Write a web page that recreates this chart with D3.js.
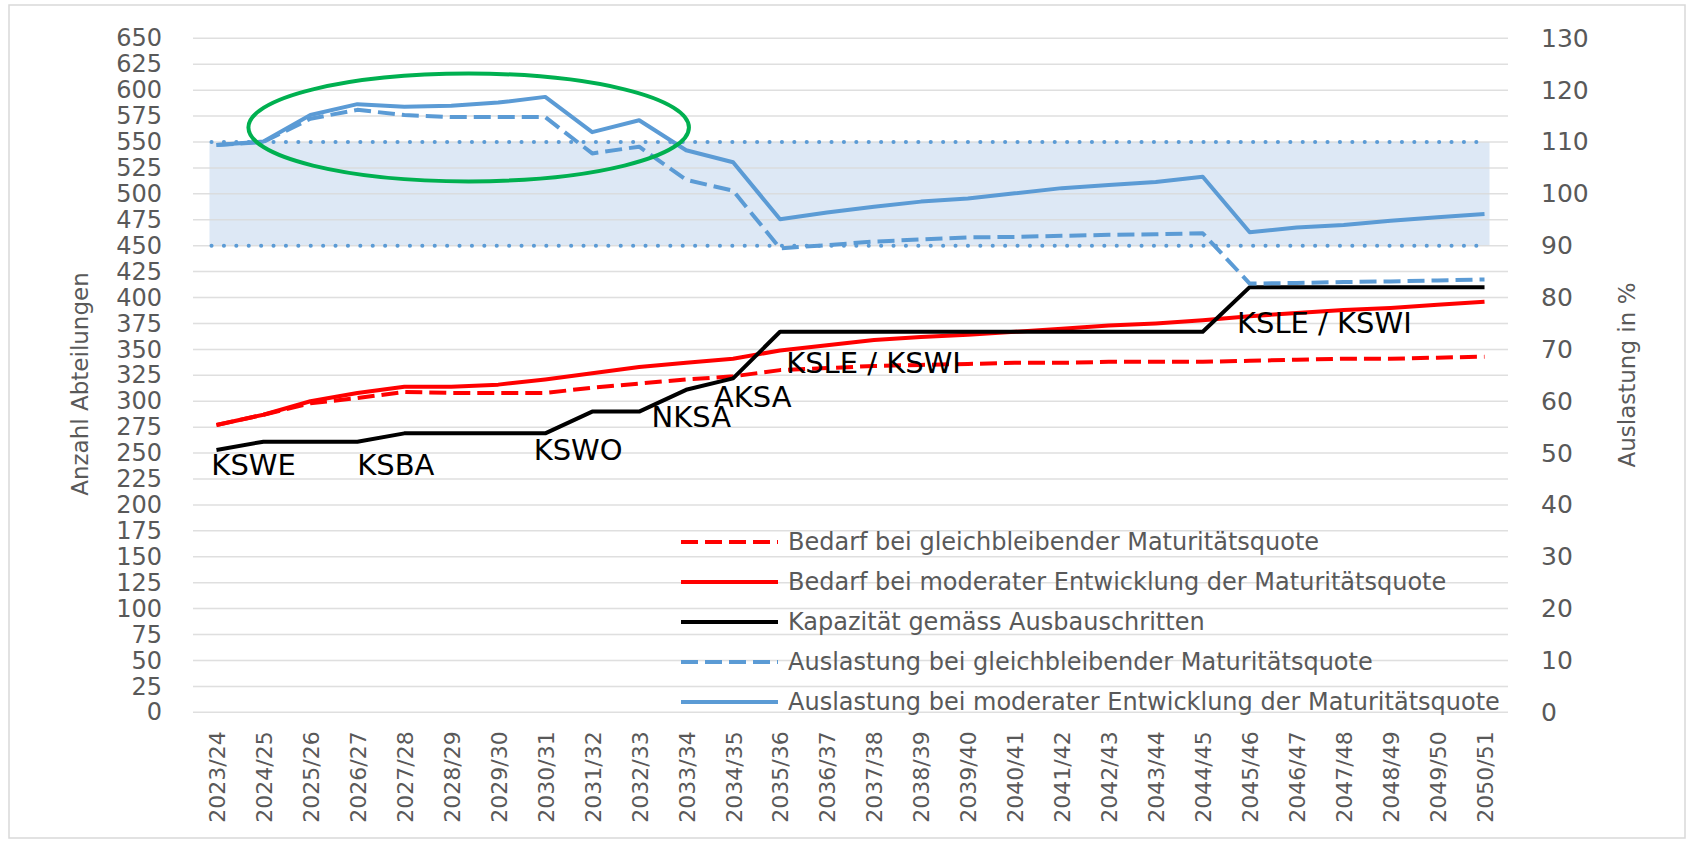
<!DOCTYPE html>
<html>
<head>
<meta charset="utf-8">
<script src="https://cdn.jsdelivr.net/npm/d3@7"></script>
<style>
    html, body { margin: 0; padding: 0; background: #fff; }
    svg { display: block; font-family: "DejaVu Sans", sans-serif; }
</style>
</head>
<body>
<main id="root"></main>
<script>
"use strict";

var years = [
    '2023/24', '2024/25', '2025/26', '2026/27', '2027/28', '2028/29', '2029/30',
    '2030/31', '2031/32', '2032/33', '2033/34', '2034/35', '2035/36', '2036/37',
    '2037/38', '2038/39', '2039/40', '2040/41', '2041/42', '2042/43', '2043/44',
    '2044/45', '2045/46', '2046/47', '2047/48', '2048/49', '2049/50', '2050/51'
];

// Anzahl Abteilungen (linke Achse)
var bedarfGleich = [277, 287, 298, 303, 309, 308, 308, 308, 313, 317, 321, 324, 330, 332,
                    334, 335, 336, 337, 337, 338, 338, 338, 339, 340, 341, 341, 342, 343];
var bedarfModerat = [277, 287, 300, 308, 314, 314, 316, 321, 327, 333, 337, 341, 349, 354,
                     359, 362, 364, 367, 370, 373, 375, 378, 382, 385, 388, 390, 393, 396];
var kapazitaet = [253, 261, 261, 261, 269, 269, 269, 269, 290, 290, 311, 322, 367, 367,
                  367, 367, 367, 367, 367, 367, 367, 367, 410, 410, 410, 410, 410, 410];

// Auslastung in % (rechte Achse)
var auslastungGleich = [109.4, 110.0, 114.5, 116.2, 115.2, 114.8, 114.8, 114.8, 107.8, 109.1,
                        102.7, 100.6, 89.5, 90.1, 90.8, 91.2, 91.6, 91.7, 91.9, 92.1,
                        92.2, 92.4, 82.7, 82.8, 83.0, 83.1, 83.3, 83.5];
var auslastungModerat = [109.4, 110.1, 115.2, 117.3, 116.8, 117.0, 117.6, 118.7, 111.9, 114.2,
                         108.4, 106.1, 95.1, 96.4, 97.5, 98.5, 99.1, 100.1, 101.1, 101.7,
                         102.3, 103.3, 92.6, 93.5, 94.0, 94.8, 95.5, 96.1];

var zielBand = [90, 110];

var leftTicks = d3.range(0, 651, 25);
var rightTicks = d3.range(0, 131, 10);

// Ausbauschritte: Text, Position auf der Kategorienachse, Grundlinie in Abteilungen
var ausbauLabels = [
    { text: 'KSWE', at: 0.79, value: 229 },
    { text: 'KSBA', at: 3.82, value: 229 },
    { text: 'KSWO', at: 7.70, value: 243 },
    { text: 'NKSA', at: 10.11, value: 275 },
    { text: 'AKSA', at: 11.42, value: 294 },
    { text: 'KSLE / KSWI', at: 13.99, value: 327 },
    { text: 'KSLE / KSWI', at: 23.59, value: 366 }
];

var legendItems = [
    { label: 'Bedarf bei gleichbleibender Maturitätsquote', color: '#ff0000', dash: '17,7' },
    { label: 'Bedarf bei moderater Entwicklung der Maturitätsquote', color: '#ff0000', dash: null },
    { label: 'Kapazität gemäss Ausbauschritten', color: '#000000', dash: null },
    { label: 'Auslastung bei gleichbleibender Maturitätsquote', color: '#5b9bd5', dash: '17,7' },
    { label: 'Auslastung bei moderater Entwicklung der Maturitätsquote', color: '#5b9bd5', dash: null }
];

var config = {
    width: 1694,
    height: 844,
    plot_left: 193,
    plot_right: 1508,
    plot_top: 38.3,
    plot_bottom: 712.3,
    text_color: '#595959',
    grid_color: '#d9d9d9',
    blue: '#5b9bd5',
    band_fill: '#dde8f5'
};

var svg = d3.select('main#root').append('svg')
    .attr('width', config.width)
    .attr('height', config.height);

svg.append('rect')
    .attr('x', 9).attr('y', 5)
    .attr('width', config.width - 18).attr('height', config.height - 11)
    .attr('fill', '#fff')
    .attr('stroke', '#d9d9d9')
    .attr('stroke-width', 1.5);

var x = d3.scalePoint()
    .domain(years)
    .range([config.plot_left, config.plot_right])
    .padding(0.5);

var step = x.step();
function xAt( i ) { return x(years[0]) + i * step; }

var yLeft = d3.scaleLinear().domain([0, 650]).range([config.plot_bottom, config.plot_top]);
var yRight = d3.scaleLinear().domain([0, 130]).range([config.plot_bottom, config.plot_top]);

// Zielbereich 90 - 110 %
var bandX0 = x(years[0]) - 7;
var bandX1 = x(years[years.length - 1]) + 5;

svg.append('rect')
    .attr('x', bandX0)
    .attr('y', yRight(zielBand[1]))
    .attr('width', bandX1 - bandX0)
    .attr('height', yRight(zielBand[0]) - yRight(zielBand[1]))
    .attr('fill', config.band_fill);

// gridlines (drawn over the band, as in the original)
svg.append('g').classed('grid', true)
    .selectAll('line')
    .data(leftTicks)
    .enter().append('line')
        .attr('x1', config.plot_left)
        .attr('x2', config.plot_right)
        .attr('y1', function( d ) { return yLeft(d); })
        .attr('y2', function( d ) { return yLeft(d); })
        .attr('stroke', config.grid_color)
        .attr('stroke-opacity', 0.85)
        .attr('stroke-width', 1.5);

svg.append('g').classed('band-limits', true)
    .selectAll('line')
    .data(zielBand)
    .enter().append('line')
        .attr('x1', bandX0 + 2)
        .attr('x2', bandX1 - 8)
        .attr('y1', function( d ) { return yRight(d); })
        .attr('y2', function( d ) { return yRight(d); })
        .attr('stroke', config.blue)
        .attr('stroke-width', 4)
        .attr('stroke-linecap', 'round')
        .attr('stroke-dasharray', '0.1,12.3');

// left axis labels
var leftAxis = d3.axisLeft(yLeft).tickValues(leftTicks).tickSize(0).tickPadding(0);
var gLeft = svg.append('g')
    .attr('transform', 'translate(162,0)')
    .call(leftAxis);
gLeft.select('.domain').remove();
gLeft.selectAll('text')
    .attr('fill', config.text_color)
    .style('font-family', '"DejaVu Sans", sans-serif')
    .style('font-size', '24px');

// right axis labels
var rightAxis = d3.axisRight(yRight).tickValues(rightTicks).tickSize(0).tickPadding(0);
var gRight = svg.append('g')
    .attr('transform', 'translate(1541,0)')
    .call(rightAxis);
gRight.select('.domain').remove();
gRight.selectAll('text')
    .attr('fill', config.text_color)
    .style('font-family', '"DejaVu Sans", sans-serif')
    .style('font-size', '25px');

// category axis
var xAxis = d3.axisBottom(x).tickSize(0).tickPadding(0);
var gX = svg.append('g')
    .attr('transform', 'translate(0,' + config.plot_bottom + ')')
    .call(xAxis);
gX.select('.domain').remove();
gX.selectAll('text')
    .attr('fill', config.text_color)
    .style('font-family', '"DejaVu Sans", sans-serif')
    .style('font-size', '22px')
    .attr('text-anchor', 'end')
    .attr('transform', 'rotate(-90)')
    .attr('x', -19)
    .attr('y', 0)
    .attr('dy', '0.36em');

// axis titles
svg.append('text')
    .attr('transform', 'translate(80,384) rotate(-90)')
    .attr('text-anchor', 'middle')
    .attr('dy', '0.35em')
    .attr('fill', config.text_color)
    .style('font-size', '23px')
    .text('Anzahl Abteilungen');

svg.append('text')
    .attr('transform', 'translate(1627,375) rotate(-90)')
    .attr('text-anchor', 'middle')
    .attr('dy', '0.35em')
    .attr('fill', config.text_color)
    .style('font-size', '23px')
    .text('Auslastung in %');

// series
var leftLine = d3.line()
    .x(function( d, i ) { return x(years[i]); })
    .y(function( d ) { return yLeft(d); });

var rightLine = d3.line()
    .x(function( d, i ) { return x(years[i]); })
    .y(function( d ) { return yRight(d); });

var series = [
    { values: bedarfGleich, line: leftLine, color: '#ff0000', dash: '17,7' },
    { values: bedarfModerat, line: leftLine, color: '#ff0000', dash: null },
    { values: kapazitaet, line: leftLine, color: '#000000', dash: null },
    { values: auslastungGleich, line: rightLine, color: config.blue, dash: '17,7' },
    { values: auslastungModerat, line: rightLine, color: config.blue, dash: null }
];

svg.append('g').classed('series', true)
    .selectAll('path')
    .data(series)
    .enter().append('path')
        .attr('d', function( d ) { return d.line(d.values); })
        .attr('fill', 'none')
        .attr('stroke', function( d ) { return d.color; })
        .attr('stroke-width', 4)
        .attr('stroke-linejoin', 'round')
        .attr('stroke-dasharray', function( d ) { return d.dash; });

// Ausbauschritte
svg.append('g').classed('ausbau-labels', true)
    .selectAll('text')
    .data(ausbauLabels)
    .enter().append('text')
        .attr('x', function( d ) { return xAt(d.at); })
        .attr('y', function( d ) { return yLeft(d.value); })
        .attr('text-anchor', 'middle')
        .attr('fill', '#000')
        .style('font-size', '29px')
        .text(function( d ) { return d.text; });

// Hervorhebung
var ellipse = { at: 5.37, value: 564, rx_steps: 4.69, ry_value: 52 };
svg.append('ellipse')
    .attr('cx', xAt(ellipse.at))
    .attr('cy', yLeft(ellipse.value))
    .attr('rx', ellipse.rx_steps * step)
    .attr('ry', yLeft(0) - yLeft(ellipse.ry_value))
    .attr('fill', 'none')
    .attr('stroke', '#00b050')
    .attr('stroke-width', 4);

// legend
var legend = svg.append('g').classed('legend', true)
    .attr('transform', 'translate(681,542)');

var rows = legend.selectAll('g')
    .data(legendItems)
    .enter().append('g')
        .attr('transform', function( d, i ) { return 'translate(0,' + (i * 40) + ')'; });

rows.append('line')
    .attr('x1', 0).attr('x2', 97)
    .attr('y1', 0).attr('y2', 0)
    .attr('stroke', function( d ) { return d.color; })
    .attr('stroke-width', 4)
    .attr('stroke-dasharray', function( d ) { return d.dash; });

rows.append('text')
    .attr('x', 107)
    .attr('y', 0)
    .attr('dy', '0.35em')
    .attr('fill', config.text_color)
    .style('font-size', '24px')
    .text(function( d ) { return d.label; });
</script>
</body>
</html>
